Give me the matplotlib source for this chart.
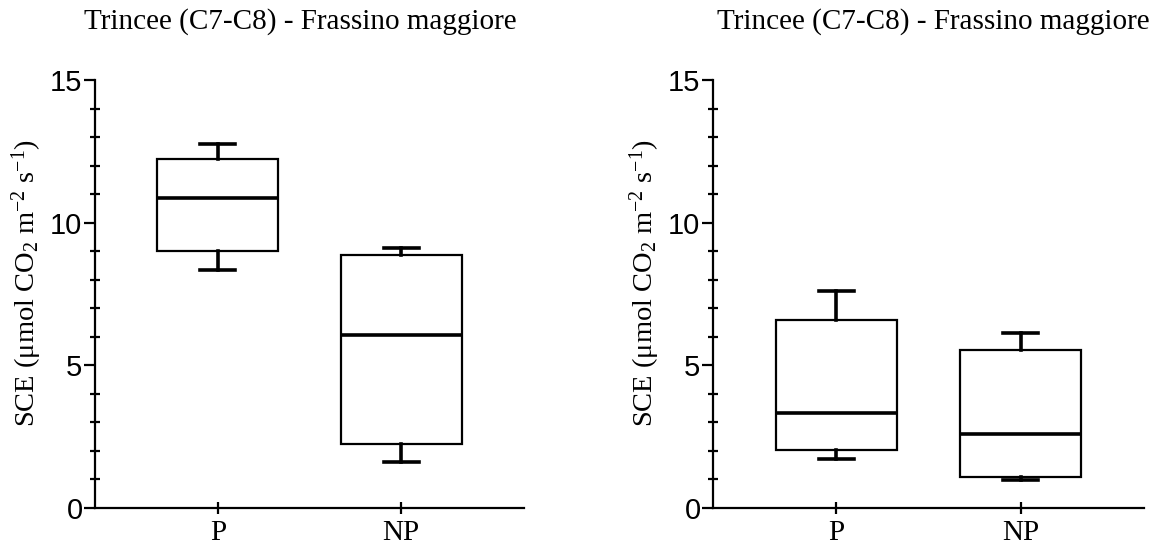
import matplotlib.pyplot as plt
from matplotlib.ticker import MultipleLocator

title = 'Trincee (C7-C8) - Frassino maggiore'
groups = ['P', 'NP']

# left panel: whisker low, q1, median, q3, whisker high
left_lo = [8.34, 1.61]
left_q1 = [9.0, 2.23]
left_med = [10.87, 6.07]
left_q3 = [12.24, 8.88]
left_hi = [12.74, 9.12]

# right panel
right_lo = [1.71, 0.97]
right_q1 = [2.04, 1.08]
right_med = [3.32, 2.58]
right_q3 = [6.60, 5.54]
right_hi = [7.62, 6.13]

serif = 'Liberation Serif'
sans = 'Liberation Sans'
plt.rcParams['mathtext.fontset'] = 'custom'
plt.rcParams['mathtext.rm'] = serif
plt.rcParams['mathtext.it'] = serif + ':italic'

fig = plt.figure(figsize=(11.65, 5.48), dpi=100)
ax1 = fig.add_axes([95/1165, 40/548, 429/1165, 428/548])
ax2 = fig.add_axes([713/1165, 40/548, 431/1165, 428/548])


def draw(ax, lo, q1, med, q3, hi):
    stats = []
    for i in range(len(groups)):
        stats.append(dict(whislo=lo[i], q1=q1[i], med=med[i], q3=q3[i],
                          whishi=hi[i], fliers=[], label=groups[i]))
    ax.bxp(stats, positions=[0, 1], widths=0.66, capwidths=0.19,
           showfliers=False, patch_artist=True,
           boxprops=dict(facecolor='white', edgecolor='black', linewidth=1.6),
           medianprops=dict(color='black', linewidth=2.6),
           whiskerprops=dict(color='black', linewidth=2.6),
           capprops=dict(color='black', linewidth=2.6))
    ax.set_xlim(-0.67, 1.67)
    ax.set_ylim(0, 15)
    ax.spines['top'].set_visible(False)
    ax.spines['right'].set_visible(False)
    ax.spines['left'].set_linewidth(1.6)
    ax.spines['bottom'].set_linewidth(1.6)
    ax.yaxis.set_major_locator(MultipleLocator(5))
    ax.yaxis.set_minor_locator(MultipleLocator(1))
    ax.tick_params(axis='y', which='major', direction='out', length=8,
                   width=1.6, pad=1, labelsize=21)
    ax.tick_params(axis='y', which='minor', direction='inout', length=7,
                   width=1.6)
    ax.tick_params(axis='x', direction='inout', length=9, width=1.6, pad=4)
    for lab in ax.get_yticklabels():
        lab.set_fontfamily(sans)
    ax.set_xticks([0, 1])
    ax.set_xticklabels(groups, fontfamily=serif, fontsize=21)
    ax.set_ylabel(r'SCE ($\mathregular{\mu}$mol CO$_2$ m$^{-2}$ s$^{-1}$)',
                  fontfamily=serif, fontsize=20.5)
    ax.yaxis.set_label_coords(-0.118, 0.525)


draw(ax1, left_lo, left_q1, left_med, left_q3, left_hi)
draw(ax2, right_lo, right_q1, right_med, right_q3, right_hi)

fig.text(300/1165, 1 - 22/548, title, ha='center', va='center',
         fontfamily=serif, fontsize=21)
fig.text(933/1165, 1 - 22/548, title, ha='center', va='center',
         fontfamily=serif, fontsize=21)

fig.savefig('out.png', dpi=100)
